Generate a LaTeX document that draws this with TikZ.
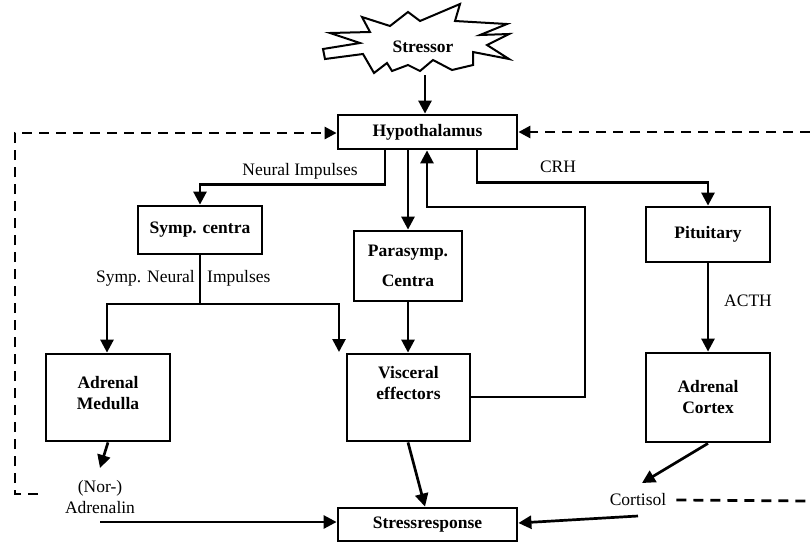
\documentclass[tikz,border=0pt]{standalone}
\usepackage{fontspec}
\setmainfont{Liberation Serif}
\usetikzlibrary{arrows.meta}
\begin{document}
\begin{tikzpicture}[x=1pt,y=-1pt,
  every node/.style={font=\fontsize{17.5}{21}\selectfont},
  box/.style={draw,line width=2.8pt,rectangle,inner sep=0pt,font=\fontsize{17.5}{21}\selectfont\bfseries,align=center},
  lbl/.style={inner sep=0pt,align=center},
  conn/.style={line width=2.7pt,-{Triangle[length=13pt,width=13pt]}},
  plain/.style={line width=2.7pt},
  fb/.style={line width=2.7pt,dash pattern=on 10pt off 7pt},
  fbarrow/.style={fb,-{Triangle[length=12pt,width=12pt]}}]
\useasboundingbox (0,0) rectangle (810,542);
% starburst
\draw[line width=2pt,fill=white] (323,49) -- (360,43) -- (330,33) -- (370,32) -- (362,17) -- (390,26) -- (408,12) -- (420,21) -- (460,4) -- (455,21) -- (507,24) -- (480,35) -- (509,34) -- (487,45) -- (509,59) -- (473,52) -- (473,65) -- (452,70) -- (433,60) -- (420,71) -- (408,65) -- (392,71) -- (387,63) -- (374,73) -- (363,54) -- (325,59) -- cycle;
\node[lbl,font=\fontsize{17.5}{21}\selectfont\bfseries] (stressor) at (423,47) {Stressor};
\coordinate (stressbot) at (425,75);
% boxes
\node[box,minimum width=179pt,minimum height=34pt] (hyp) at (427.5,132) {Hypothalamus};
\node[box,minimum width=124pt,minimum height=48pt] (symp) at (200,230) {Symp. centra};
\node[box,minimum width=108pt,minimum height=70pt] (para) at (408,266) {Parasymp.\\[9pt]Centra};
\node[box,minimum width=123pt,minimum height=87pt] (visc) at (408.5,397.5) {};
\node[lbl,font=\fontsize{17.5}{21}\selectfont\bfseries] (visct) at (408.5,383) {Visceral\\effectors};
\node[box,minimum width=124pt,minimum height=87pt] (adm) at (108,397.5) {};
\node[lbl,font=\fontsize{17.5}{21}\selectfont\bfseries] (admt) at (108,393) {Adrenal\\Medulla};
\node[box,minimum width=124pt,minimum height=55pt] (pit) at (708,234.5) {Pituitary};
\node[box,minimum width=124pt,minimum height=89pt] (adc) at (708,397.5) {Adrenal\\Cortex};
\node[box,minimum width=179pt,minimum height=33pt] (stress) at (427.5,524.5) {Stressresponse};
% labels
\node[lbl] (neural) at (300,171) {Neural Impulses};
\node[lbl,anchor=east] (sympn) at (195,278) {Symp. Neural};
\node[lbl,anchor=west] (impul) at (207,278) {Impulses};
\node[lbl] (crh) at (558,167) {CRH};
\node[lbl] (acth) at (748,301) {ACTH};
\node[lbl] (nor) at (100,497) {(Nor-)\\Adrenalin};
\node[lbl] (cort) at (638,500) {Cortisol};
% connectors
\draw[conn] (stressbot) -- (hyp.north -| stressbot);
\draw[conn] ([xshift=-42.5pt]hyp.south) -- ++(0,34) -| (symp.north);
\draw[conn] ([xshift=-19.5pt]hyp.south) -- ([xshift=-19.5pt]hyp.south |- para.north);
\draw[conn] ([xshift=49.5pt]hyp.south) -- ++(0,32) -| (pit.north);
\coordinate (split) at (200,304);
\coordinate (admin) at (107,304);
\coordinate (visin) at (339,304);
\coordinate (vistip) at (339,352);
\draw[plain] (symp.south) -- (split);
\draw[conn] (split) -- (admin) -- (admin |- adm.north);
\draw[conn] (split) -- (visin) -- (vistip);
\draw[conn] (para.south) -- (visc.north -| para.south);
\coordinate (fb1) at (585,397);
\coordinate (fb2) at (585,207);
\coordinate (fb3) at (427,207);
\draw[conn] (visc.east |- fb1) -- (fb1) -- (fb2) -- (fb3) -- (fb3 |- hyp.south);
\draw[conn] ([xshift=-0.5pt]visc.south) -- ([xshift=-2.5pt]stress.north);
\draw[conn] (pit.south) -- (adc.north);
\coordinate (cortip) at (642,483);
\draw[conn] (adc.south) -- (cortip);
\coordinate (adtip) at (100,468);
\draw[conn] (adm.south) -- (adtip);
\coordinate (adr) at (100,522);
\draw[conn] (adr) -- (stress.west |- adr);
\coordinate (cortst) at (638,516);
\draw[conn] (cortst) -- ([yshift=1.5pt]stress.east);
% feedback dashed
\coordinate (dl1) at (38,494);
\coordinate (dl2) at (15,494);
\coordinate (dl3) at (15,133);
\draw[fbarrow] (dl1) -- (dl2) -- (dl3) -- (hyp.west |- dl3);
\coordinate (dr) at (810,132);
\draw[fbarrow] (dr) -- (hyp.east);
\coordinate (dc) at (810,501);
\draw[fb] (cort.east) ++(10,0) -- (dc);
\end{tikzpicture}
\end{document}
